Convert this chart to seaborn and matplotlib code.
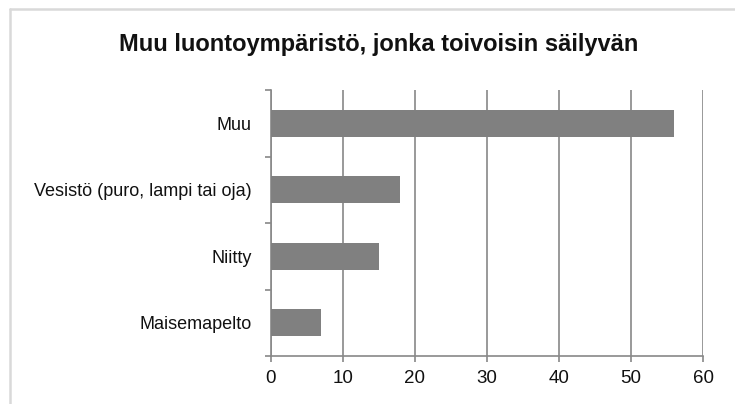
import matplotlib
matplotlib.use("Agg")
import matplotlib.pyplot as plt
from matplotlib.lines import Line2D
from matplotlib.ticker import FixedLocator, NullFormatter
import seaborn as sns
import pandas as pd

categories = ["Muu", "Vesistö (puro, lampi tai oja)", "Niitty", "Maisemapelto"]
values = [56, 18, 15, 7]
x_ticks = [0, 10, 20, 30, 40, 50, 60]
title = "Muu luontoympäristö, jonka toivoisin säilyvän"

sns.set_theme(style="white")
plt.rcParams["font.family"] = ["Liberation Sans", "DejaVu Sans"]

W, H = 735, 404
fig = plt.figure(figsize=(W / 100, H / 100), dpi=100)
fig.patch.set_facecolor("white")

ax = fig.add_axes([270.7 / W, 1 - 356 / H, (703.3 - 270.7) / W, (356 - 90) / H])

df = pd.DataFrame({"category": categories, "value": values})
sns.barplot(data=df, x="value", y="category", order=categories, orient="h",
            color="#808080", saturation=1, width=0.4, ax=ax, zorder=3)
for p in ax.patches:
    p.set_edgecolor("none")

grid_col = "#888888"
ax.set_xlim(0, 60)
ax.set_ylim(len(categories) - 0.5, -0.5)
ax.set_xticks(x_ticks)
ax.set_xticklabels([str(t) for t in x_ticks])
ax.xaxis.grid(True, color=grid_col, linewidth=1.2, zorder=0)
ax.yaxis.grid(False)
ax.set_axisbelow(True)

# category separators as outward minor ticks on the y axis
ax.yaxis.set_minor_locator(FixedLocator([i - 0.5 for i in range(len(categories) + 1)]))
ax.yaxis.set_minor_formatter(NullFormatter())
ax.tick_params(axis="y", which="major", length=0, pad=13.5, labelsize=13, labelcolor="#111111")
ax.tick_params(axis="y", which="minor", length=4, width=1.2, color=grid_col, direction="out", left=True)
ax.tick_params(axis="x", which="major", length=4, width=1.2, color=grid_col, direction="out",
               bottom=True, labelsize=13.5, labelcolor="#111111", pad=6)

for side in ["top", "right"]:
    ax.spines[side].set_visible(False)
for side in ["left", "bottom"]:
    ax.spines[side].set_color(grid_col)
    ax.spines[side].set_linewidth(1.2)
ax.set_xlabel("")
ax.set_ylabel("")

fig.text(379 / W, 1 - 44 / H, title, ha="center", va="center", fontsize=17, fontweight="bold",
         color="#111111")

# light frame around the chart area
frame_col = "#d9d9d9"
fig.add_artist(Line2D([10 / W, 10 / W], [0, 1 - 9 / H], transform=fig.transFigure,
                      color=frame_col, linewidth=1.8))
fig.add_artist(Line2D([10 / W, 1], [1 - 9 / H, 1 - 9 / H], transform=fig.transFigure,
                      color=frame_col, linewidth=1.8))

fig.savefig("out.png", dpi=100)
